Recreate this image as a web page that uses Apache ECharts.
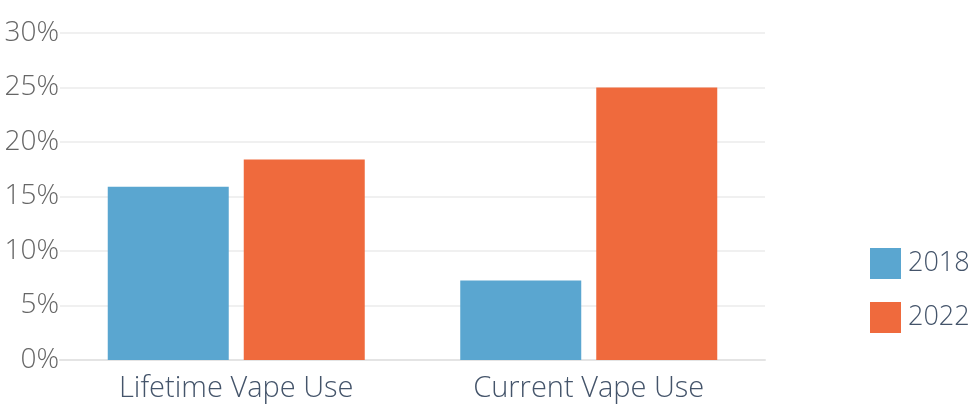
<!DOCTYPE html>
<html>
<head>
<meta charset="utf-8">
<script src="https://cdn.jsdelivr.net/npm/echarts@6/dist/echarts.min.js"></script>
<style>
  html, body { margin: 0; padding: 0; background: #fff; }
  #chart { width: 971px; height: 405px; }
</style>
</head>
<body>
<div id="chart"></div>
<script>
// 数据
const categories = ['Lifetime Vape Use', 'Current Vape Use'];
const years = ['2018', '2022'];
const values2018 = [15.9, 7.3];
const values2022 = [18.4, 25.0];
const yTicks = [0, 5, 10, 15, 20, 25, 30];

const colors = ['#5aa6d0', '#ef6a3d'];
const fontFamily = '"Open Sans", "Noto Sans", sans-serif';

const myChart = echarts.init(document.getElementById('chart'));

let option = {
    animation: false,
    color: colors,
    grid: {
        left: 60,
        right: 206,
        top: 33,
        bottom: 45
    },
    legend: {
        orient: 'vertical',
        left: 870,
        top: 248,
        padding: 0,
        itemWidth: 31,
        itemHeight: 31,
        itemGap: 23,
        icon: 'rect',
        data: years,
        textStyle: {
            fontFamily: fontFamily,
            fontWeight: 300,
            fontSize: 27,
            color: '#44546a',
            padding: [0, 0, 0, 2]
        }
    },
    xAxis: {
        type: 'category',
        data: categories,
        axisTick: { show: false },
        axisLine: {
            lineStyle: { color: '#e4e4e4', width: 2 }
        },
        axisLabel: {
            fontFamily: fontFamily,
            fontWeight: 300,
            fontSize: 29,
            color: '#44546a',
            margin: 14
        }
    },
    yAxis: {
        type: 'value',
        min: yTicks[0],
        max: yTicks[yTicks.length - 1],
        interval: 5,
        axisLine: { show: false },
        axisTick: { show: false },
        splitLine: {
            lineStyle: { color: '#ebebeb', width: 1.5 }
        },
        axisLabel: {
            fontFamily: fontFamily,
            fontWeight: 300,
            fontSize: 28,
            color: '#666666',
            margin: 1,
            formatter: '{value}%'
        }
    },
    series: [
        {
            name: years[0],
            type: 'bar',
            barWidth: 121,
            barGap: '12.4%',
            data: values2018
        },
        {
            name: years[1],
            type: 'bar',
            barWidth: 121,
            barGap: '12.4%',
            data: values2022
        }
    ]
};

myChart.setOption(option);
</script>
</body>
</html>
